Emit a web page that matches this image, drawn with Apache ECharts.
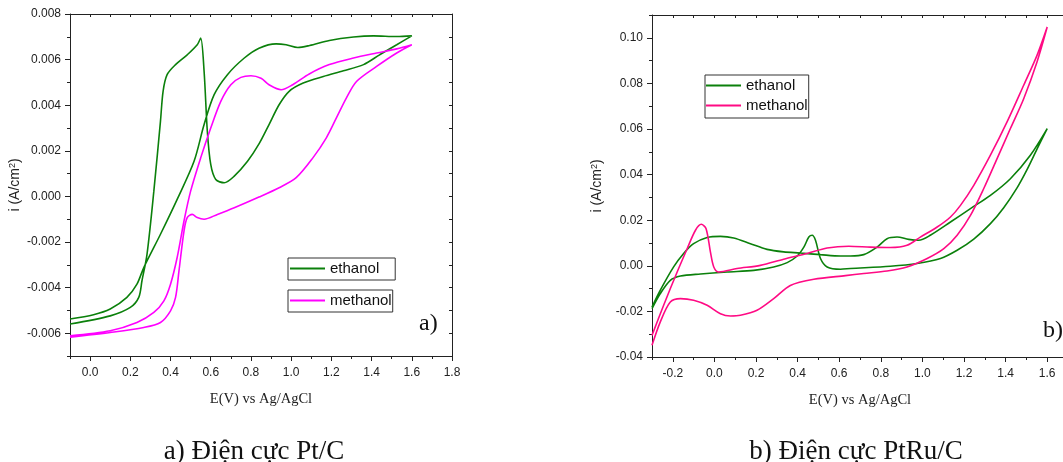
<!DOCTYPE html>
<html>
<head>
<meta charset="utf-8">
<script src="https://cdn.jsdelivr.net/npm/echarts@6/dist/echarts.min.js"></script>
<style>
  html, body { margin: 0; padding: 0; background: #fff; overflow: hidden; }
  #chart { width: 1080px; height: 462px; }
</style>
</head>
<body>
<div id="chart"></div>
<script>
  // a) Pt/C : [E (V), i (A/cm2)]
  const ptEthanolFwd = [
    [-0.1, -0.00538], [0.017, -0.00519], [0.1, -0.00494], [0.183, -0.00443], [0.233, -0.00385],
    [0.267, -0.00312], [0.35, -0.00166], [0.433, -0.00013], [0.517, 0.00154], [0.567, 0.00315],
    [0.617, 0.00446], [0.683, 0.00534], [0.767, 0.00607], [0.84, 0.0065], [0.925, 0.00669],
    [0.975, 0.00665], [1.033, 0.00653], [1.092, 0.00662], [1.19, 0.00684], [1.31, 0.00699],
    [1.41, 0.00704], [1.525, 0.00701], [1.6, 0.00704]
  ];
  const ptEthanolRev = [
    [1.525, 0.00665], [1.44, 0.00621], [1.36, 0.00578], [1.26, 0.00551], [1.16, 0.00526],
    [1.06, 0.00497], [0.99, 0.00461], [0.94, 0.00402], [0.89, 0.00315], [0.84, 0.0023],
    [0.783, 0.00154], [0.717, 0.00089], [0.667, 0.0006], [0.625, 0.00074], [0.6, 0.0014],
    [0.583, 0.00286], [0.567, 0.00548], [0.55, 0.00694], [0.533, 0.00665], [0.483, 0.00621],
    [0.425, 0.00578], [0.383, 0.00534], [0.363, 0.00461], [0.35, 0.0033], [0.317, 0.00023],
    [0.283, -0.00254], [0.258, -0.0037], [0.242, -0.00443], [0.2, -0.00487], [0.1, -0.00524],
    [-0.1, -0.0056]
  ];
  const ptMethanolFwd = [
    [-0.1, -0.00611], [0.1, -0.00589], [0.233, -0.00553], [0.317, -0.00509], [0.367, -0.00458],
    [0.4, -0.00385], [0.433, -0.00268], [0.467, -0.00108], [0.5, 0.00023], [0.55, 0.00169],
    [0.6, 0.003], [0.65, 0.00417], [0.7, 0.0049], [0.75, 0.00522], [0.8, 0.00529],
    [0.85, 0.00518], [0.89, 0.0049], [0.95, 0.00468], [1.008, 0.0049], [1.09, 0.00537],
    [1.19, 0.00578], [1.31, 0.00607], [1.425, 0.00629], [1.525, 0.00647], [1.6, 0.00665]
  ];
  const ptMethanolRev = [
    [1.525, 0.00629], [1.425, 0.0057], [1.325, 0.00504], [1.275, 0.00432], [1.225, 0.00344],
    [1.175, 0.00257], [1.108, 0.00169], [1.025, 0.00082], [0.94, 0.00038], [0.84, -0.00003],
    [0.717, -0.0005], [0.633, -0.00079], [0.567, -0.001], [0.533, -0.00093], [0.508, -0.00079],
    [0.483, -0.00093], [0.467, -0.00152], [0.442, -0.00327], [0.425, -0.00443], [0.4, -0.00502],
    [0.35, -0.00553], [0.267, -0.00575], [0.1, -0.00597], [-0.1, -0.00618]
  ];

  // b) PtRu/C
  const ptruEthanolFwd = [
    [-0.3, -0.0181], [-0.26, -0.0107], [-0.196, -0.0005], [-0.148, 0.0054], [-0.1, 0.0097],
    [-0.035, 0.0124], [0.029, 0.0129], [0.093, 0.0122], [0.173, 0.0097], [0.253, 0.0072],
    [0.333, 0.0061], [0.413, 0.0056], [0.51, 0.0049], [0.606, 0.0043], [0.654, 0.0043],
    [0.718, 0.0049], [0.782, 0.0082], [0.83, 0.0119], [0.878, 0.0126], [0.934, 0.0116],
    [0.982, 0.0112], [1.038, 0.0134], [1.135, 0.0192], [1.231, 0.0251], [1.327, 0.0309],
    [1.423, 0.0382], [1.519, 0.0485], [1.6, 0.0602]
  ];
  const ptruEthanolRev = [
    [1.552, 0.0514], [1.503, 0.0422], [1.455, 0.0342], [1.391, 0.0255], [1.327, 0.0185],
    [1.247, 0.0117], [1.167, 0.0068], [1.087, 0.0032], [0.974, 0.001], [0.846, -0.0002],
    [0.654, -0.0012], [0.606, -0.0015], [0.542, -0.0005], [0.51, 0.0032], [0.486, 0.0112],
    [0.47, 0.0134], [0.454, 0.0126], [0.43, 0.0082], [0.398, 0.0043], [0.35, 0.0014],
    [0.285, -0.0005], [0.189, -0.002], [0.061, -0.0027], [-0.067, -0.0036], [-0.163, -0.0045],
    [-0.212, -0.0064], [-0.26, -0.0122], [-0.3, -0.0188]
  ];
  const ptruMethanolFwd = [
    [-0.3, -0.0305], [-0.244, -0.0173], [-0.179, -0.0027], [-0.131, 0.0075], [-0.091, 0.0156],
    [-0.063, 0.0182], [-0.04, 0.0163], [-0.019, 0.006], [-0.003, -0.0005], [0.021, -0.0027],
    [0.109, -0.0012], [0.221, 0.0002], [0.333, 0.0029], [0.446, 0.0054], [0.542, 0.0078],
    [0.646, 0.0086], [0.75, 0.0082], [0.846, 0.008], [0.926, 0.009], [0.99, 0.0126],
    [1.071, 0.017], [1.135, 0.0214], [1.183, 0.0265], [1.247, 0.0353], [1.327, 0.0485],
    [1.407, 0.0631], [1.487, 0.0792], [1.551, 0.0923], [1.6, 0.1047]
  ];
  const ptruMethanolRev = [
    [1.551, 0.0894], [1.487, 0.0733], [1.423, 0.0602], [1.359, 0.047], [1.295, 0.0339],
    [1.231, 0.0221], [1.167, 0.0134], [1.103, 0.0075], [1.023, 0.0032], [0.926, -0.0005],
    [0.83, -0.0023], [0.718, -0.0034], [0.63, -0.0043], [0.478, -0.0059], [0.365, -0.0086],
    [0.285, -0.0144], [0.205, -0.0195], [0.125, -0.0217], [0.077, -0.022], [0.029, -0.021],
    [-0.035, -0.0173], [-0.1, -0.0151], [-0.163, -0.0144], [-0.212, -0.0159], [-0.26, -0.0246],
    [-0.3, -0.0349]
  ];

  // tick positions
  const xLabelsA = [0.0, 0.2, 0.4, 0.6, 0.8, 1.0, 1.2, 1.4, 1.6, 1.8];
  const xMinorA = [-0.1, 0.1, 0.3, 0.5, 0.7, 0.9, 1.1, 1.3, 1.5, 1.7];
  const yLabelsA = [-0.006, -0.004, -0.002, 0.0, 0.002, 0.004, 0.006, 0.008];
  const yMinorA = [-0.007, -0.005, -0.003, -0.001, 0.001, 0.003, 0.005, 0.007];
  const xLabelsB = [-0.2, 0.0, 0.2, 0.4, 0.6, 0.8, 1.0, 1.2, 1.4, 1.6];
  const xMinorB = [-0.3, -0.1, 0.1, 0.3, 0.5, 0.7, 0.9, 1.1, 1.3, 1.5, 1.7];
  const yLabelsB = [-0.04, -0.02, 0.0, 0.02, 0.04, 0.06, 0.08, 0.10];
  const yMinorB = [-0.03, -0.01, 0.01, 0.03, 0.05, 0.07, 0.09, 0.11];

  const GREEN = "#0b800b";
  const MAGENTA = "#ff00ff";
  const PINK = "#ff0a84";
  const INK = "#222";
  const SANS = "Liberation Sans, Arial, sans-serif";
  const SERIF = "Liberation Serif, Times New Roman, serif";

  const sorted = (a, b) => a.concat(b).sort((p, q) => p - q);

  function mainX(grid, min, max, labels, name) {
    return {
      type: "value", gridIndex: grid, position: "bottom", min: min, max: max,
      axisLine: { show: true, onZero: false, lineStyle: { color: INK, width: 1 } },
      axisTick: { show: true, length: 5, customValues: labels, lineStyle: { color: INK } },
      axisLabel: { customValues: labels, margin: 11, color: INK, fontSize: 12, fontFamily: SANS,
        formatter: (v) => v.toFixed(1) },
      splitLine: { show: false },
      name: name, nameLocation: "middle", nameGap: 36,
      nameTextStyle: { color: INK, fontSize: 14.5, fontFamily: SERIF }
    };
  }
  function frameX(grid, min, max, ticks) {
    return {
      type: "value", gridIndex: grid, position: "top", min: min, max: max,
      axisLine: { show: true, onZero: false, lineStyle: { color: INK, width: 1 } },
      axisTick: { show: true, inside: true, length: 3, customValues: ticks, lineStyle: { color: INK } },
      axisLabel: { show: false }, splitLine: { show: false }
    };
  }
  function minorX(grid, min, max, ticks) {
    return {
      type: "value", gridIndex: grid, position: "bottom", min: min, max: max,
      axisLine: { show: false, onZero: false },
      axisTick: { show: true, length: 3, customValues: ticks, lineStyle: { color: INK } },
      axisLabel: { show: false }, splitLine: { show: false }
    };
  }
  function mainY(grid, min, max, labels, digits) {
    return {
      type: "value", gridIndex: grid, position: "left", min: min, max: max,
      axisLine: { show: true, onZero: false, lineStyle: { color: INK, width: 1 } },
      axisTick: { show: true, length: 5, customValues: labels, lineStyle: { color: INK } },
      axisLabel: { customValues: labels, margin: 9, color: INK, fontSize: 12, fontFamily: SANS,
        formatter: (v) => v.toFixed(digits) },
      splitLine: { show: false },
      name: "{n|i (A/cm}{s|2}{n|)}", nameLocation: "middle", nameGap: 47,
      nameTextStyle: { rich: {
        n: { color: INK, fontSize: 14, fontFamily: SANS },
        s: { color: INK, fontSize: 9, fontFamily: SANS, verticalAlign: "top", padding: [0, 0, 6, 0] }
      } }
    };
  }
  function frameY(grid, min, max, ticks) {
    return {
      type: "value", gridIndex: grid, position: "right", min: min, max: max,
      axisLine: { show: true, onZero: false, lineStyle: { color: INK, width: 1 } },
      axisTick: { show: true, inside: true, length: 3, customValues: ticks, lineStyle: { color: INK } },
      axisLabel: { show: false }, splitLine: { show: false }
    };
  }
  function minorY(grid, min, max, ticks) {
    return {
      type: "value", gridIndex: grid, position: "left", min: min, max: max,
      axisLine: { show: false, onZero: false },
      axisTick: { show: true, length: 3, customValues: ticks, lineStyle: { color: INK } },
      axisLabel: { show: false }, splitLine: { show: false }
    };
  }
  function cv(name, color, xi, yi, fwd, rev) {
    return {
      name: name, type: "line", xAxisIndex: xi, yAxisIndex: yi,
      data: fwd.concat(rev), symbol: "none", smooth: 0.3,
      lineStyle: { color: color, width: 1.6 }, itemStyle: { color: color }
    };
  }
  function legendBox(left, top, padding, gap, items) {
    return {
      left: left, top: top, orient: "vertical", padding: padding, itemGap: gap,
      borderColor: "#333", borderWidth: 1, backgroundColor: "#fff",
      icon: "rect", itemWidth: 35, itemHeight: 2, selectedMode: false,
      textStyle: { color: "#111", fontSize: 15, fontFamily: SANS },
      data: items
    };
  }

  const chart = echarts.init(document.getElementById("chart"));
  chart.setOption({
    animation: false,
    backgroundColor: "#fff",
    grid: [
      { left: 70, top: 14, width: 382, height: 342 },
      { left: 70, top: 14, width: 382, height: 342 },
      { left: 652, top: 15, width: 416, height: 342 },
      { left: 652, top: 15, width: 416, height: 342 }
    ],
    xAxis: [
      mainX(0, -0.1, 1.8, xLabelsA, "E(V) vs Ag/AgCl"),
      frameX(0, -0.1, 1.8, sorted(xLabelsA, xMinorA)),
      minorX(1, -0.1, 1.8, xMinorA),
      mainX(2, -0.3, 1.7, xLabelsB, "E(V) vs Ag/AgCl"),
      frameX(2, -0.3, 1.7, sorted(xLabelsB, xMinorB)),
      minorX(3, -0.3, 1.7, xMinorB)
    ],
    yAxis: [
      mainY(0, -0.007, 0.008, yLabelsA, 3),
      frameY(0, -0.007, 0.008, sorted(yLabelsA, yMinorA)),
      minorY(1, -0.007, 0.008, yMinorA),
      mainY(2, -0.04, 0.11, yLabelsB, 2),
      frameY(2, -0.04, 0.11, sorted(yLabelsB, yMinorB)),
      minorY(3, -0.04, 0.11, yMinorB)
    ],
    legend: [
      legendBox(288, 258, [3, 16, 4, 2], 2, [{ name: "ethanol", itemStyle: { color: GREEN } }]),
      legendBox(288, 290, [3, 1, 4, 2], 2, [{ name: "methanol", itemStyle: { color: MAGENTA } }]),
      legendBox(705, 75, [3, 1, 5, 1], 5, [
        { name: "ethanol", itemStyle: { color: GREEN } },
        { name: "methanol", itemStyle: { color: PINK } }
      ])
    ],
    graphic: [
      { type: "text", left: 419, top: 312, style: { text: "a)", fill: "#111", font: "24px " + SERIF } },
      { type: "text", left: 1043, top: 319, style: { text: "b)", fill: "#111", font: "24px " + SERIF } },
      { type: "text", x: 254, y: 452, style: { text: "a) Điện cực Pt/C", fill: "#111", font: "27px " + SERIF,
        textAlign: "center", textVerticalAlign: "middle" } },
      { type: "text", x: 856, y: 452, style: { text: "b) Điện cực PtRu/C", fill: "#111", font: "27px " + SERIF,
        textAlign: "center", textVerticalAlign: "middle" } }
    ],
    series: [
      cv("ethanol", GREEN, 0, 0, ptEthanolFwd, ptEthanolRev),
      cv("methanol", MAGENTA, 0, 0, ptMethanolFwd, ptMethanolRev),
      cv("ethanol", GREEN, 3, 3, ptruEthanolFwd, ptruEthanolRev),
      cv("methanol", PINK, 3, 3, ptruMethanolFwd, ptruMethanolRev)
    ]
  });
</script>
</body>
</html>
